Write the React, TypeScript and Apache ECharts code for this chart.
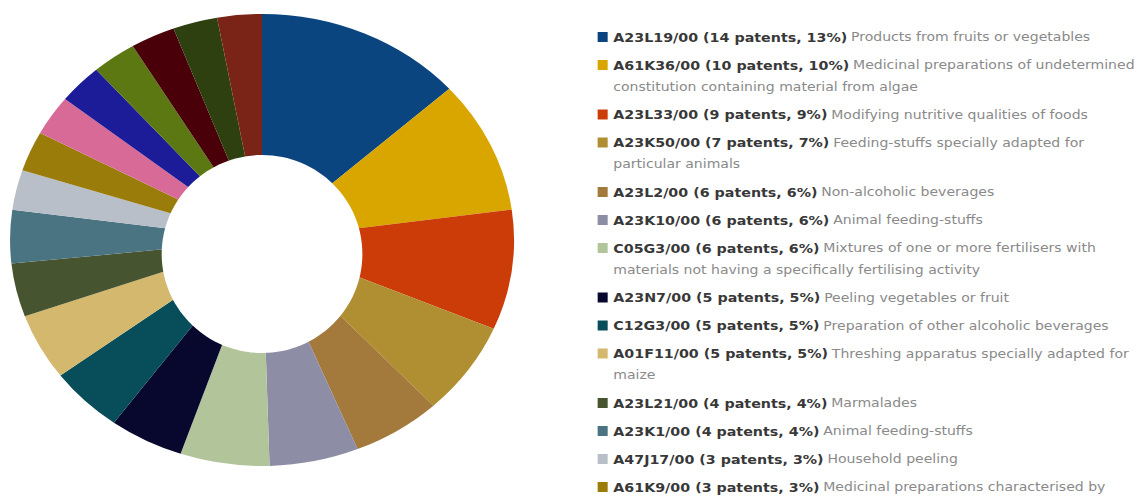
import React, { useEffect, useRef } from "react";
import * as echarts from "echarts";

const codes = [
  "A23L19/00", "A61K36/00", "A23L33/00", "A23K50/00", "A23L2/00",
  "A23K10/00", "C05G3/00", "A23N7/00", "C12G3/00", "A01F11/00",
  "A23L21/00", "A23K1/00", "A47J17/00", "A61K9/00",
  "Class 15", "Class 16", "Class 17", "Class 18", "Class 19", "Class 20",
];
const counts = [14, 10, 9, 7, 6, 6, 6, 5, 5, 5, 4, 4, 3, 3, 3, 3, 3, 3, 3, 3];
const percents = [13, 10, 9, 7, 6, 6, 6, 5, 5, 5, 4, 4, 3, 3, 3, 3, 3, 3, 3, 3];
const descriptions = [
  "Products from fruits or vegetables",
  "Medicinal preparations of undetermined\nconstitution containing material from algae",
  "Modifying nutritive qualities of foods",
  "Feeding-stuffs specially adapted for\nparticular animals",
  "Non-alcoholic beverages",
  "Animal feeding-stuffs",
  "Mixtures of one or more fertilisers with\nmaterials not having a specifically fertilising activity",
  "Peeling vegetables or fruit",
  "Preparation of other alcoholic beverages",
  "Threshing apparatus specially adapted for\nmaize",
  "Marmalades",
  "Animal feeding-stuffs",
  "Household peeling",
  "Medicinal preparations characterised by\nspecial physical form",
  "", "", "", "", "", "",
];
const colors = [
  "#0a4580", "#d9a600", "#cc3c08", "#b08f32", "#a37a3c",
  "#8e8da6", "#b2c59a", "#08082e", "#074e5a", "#d4b86e",
  "#475430", "#4a7482", "#b8bfc8", "#9a7c0a", "#d86a98",
  "#1c1c98", "#5c7812", "#4a0008", "#2e4010", "#7a2418",
];

const STRETCH = 1.115;

export default function App() {
  const ref = useRef<HTMLDivElement>(null);
  useEffect(() => {
    const chart = echarts.init(ref.current!, null, { renderer: "svg" });
    const graphics: any[] = [
      {
        type: "ellipse",
        shape: { cx: 235, cy: 254, rx: 90, ry: 99 },
        style: { fill: "#ffffff" },
        z: 10,
      },
    ];
    let y = 37;
    codes.forEach((c, i) => {
      const lines = descriptions[i] ? descriptions[i].split("\n") : [""];
      graphics.push({
        type: "rect",
        shape: { x: 536, y: y - 5, width: 9, height: 10 },
        style: { fill: colors[i] },
      });
      const text =
        `{b|${c} (${counts[i]} patents, ${percents[i]}%)} {d|${lines[0]}}` +
        lines.slice(1).map((l) => `\n{d|${l}}`).join("");
      graphics.push({
        type: "text",
        x: 550,
        y: y - 10.75,
        style: {
          text,
          verticalAlign: "top",
          align: "left",
          rich: {
            b: { fontFamily: "DejaVu Sans", fontWeight: "bold", fontSize: 12.8, fill: "#383838", lineHeight: 21.5 },
            d: { fontFamily: "DejaVu Sans", fontSize: 12.6, fill: "#8a8a8a", lineHeight: 21.5 },
          },
        },
      });
      y += 28 + (lines.length - 1) * 21.5;
    });

    chart.setOption({
      animation: false,
      series: [
        {
          type: "pie",
          center: [235, 240],
          radius: [80, 226],
          startAngle: 90,
          clockwise: true,
          label: { show: false },
          labelLine: { show: false },
          itemStyle: { borderWidth: 0 },
          emphasis: { disabled: true },
          data: codes.map((c, i) => ({ name: c, value: counts[i], itemStyle: { color: colors[i] } })),
        },
      ],
      graphic: graphics,
    });
    return () => chart.dispose();
  }, []);
  return (
    <div style={{ position: "fixed", left: 0, top: 0, width: 1141, height: 502, overflow: "hidden", background: "#fff" }}>
      <div
        ref={ref}
        style={{
          width: Math.round(1141 / STRETCH),
          height: 502,
          transform: `scaleX(${STRETCH})`,
          transformOrigin: "0 0",
        }}
      />
    </div>
  );
}
